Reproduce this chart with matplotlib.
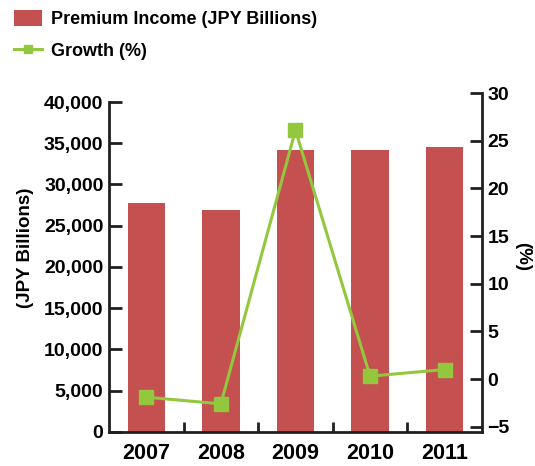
import matplotlib.pyplot as plt
import matplotlib.ticker as ticker
from matplotlib.patches import Patch
from matplotlib.lines import Line2D

# ── Data ──────────────────────────────────────────────────────────────────────
years = ["2007", "2008", "2009", "2010", "2011"]
premium_income = [27750, 26900, 34200, 34180, 34600]   # JPY billions
growth = [-1.9, -2.6, 26.1, 0.3, 1.0]                   # %

# ── Style ─────────────────────────────────────────────────────────────────────
BAR_COLOR = "#c4504f"
LINE_COLOR = "#93c73e"
AXIS_COLOR = "#231f20"
plt.rcParams["font.family"] = ["Liberation Sans", "DejaVu Sans"]
plt.rcParams["font.weight"] = "bold"

fig = plt.figure(figsize=(5.35, 4.66), dpi=100)
ax = fig.add_axes([0.2037, 0.073, 0.6972, 0.7274])
ax2 = ax.twinx()

x = range(len(years))
ax.bar(x, premium_income, width=0.5, color=BAR_COLOR, zorder=2)
ax2.plot(x, growth, color=LINE_COLOR, linewidth=2.2, marker="s",
         markersize=10.5, zorder=3)

# left axis: 0-40,000, spine stops at the top tick
ax.set_xlim(-0.5, len(years) - 0.5)
ax.set_ylim(0, 41090)
ax.set_yticks(range(0, 40001, 5000))
ax.yaxis.set_major_formatter(ticker.StrMethodFormatter("{x:,.0f}"))
ax.spines["left"].set_bounds(0, 40000)

# right axis: -5 to 30 %
ax2.set_ylim(-5.55, 30)
ax2.set_yticks(range(-5, 31, 5))
ax2.spines["right"].set_bounds(-5.55, 30)

# category ticks sit between the bars
ax.set_xticks(x)
ax.set_xticklabels(years)
ax.xaxis.set_minor_locator(ticker.FixedLocator([0.5, 1.5, 2.5, 3.5]))
ax.tick_params(axis="x", which="major", length=0, pad=8, labelsize=15.5)
ax.tick_params(axis="x", which="minor", direction="in", length=7,
               width=2, color=AXIS_COLOR)

ax.tick_params(axis="y", direction="in", length=9, width=2,
               color=AXIS_COLOR, labelsize=14, pad=4)
ax2.tick_params(axis="y", direction="in", length=9, width=2,
                color=AXIS_COLOR, labelsize=14, pad=4)

for a in (ax, ax2):
    a.spines["top"].set_visible(False)
    for side in ("left", "right", "bottom"):
        a.spines[side].set_color(AXIS_COLOR)
        a.spines[side].set_linewidth(2)
ax.spines["right"].set_visible(False)
ax2.spines["left"].set_visible(False)
ax2.spines["bottom"].set_visible(False)

fig.text(0.047, 0.468, "(JPY Billions)", rotation=90, ha="center",
         va="center", fontsize=13.5)
fig.text(0.976, 0.45, "(%)", rotation=270, ha="center", va="center",
         fontsize=13.5)

# legend
handles = [
    Patch(facecolor=BAR_COLOR, edgecolor="none"),
    Line2D([0], [0], color=LINE_COLOR, linewidth=2.2, marker="s",
           markersize=6),
]
fig.legend(handles, ["Premium Income (JPY Billions)", "Growth (%)"],
           loc="upper left", bbox_to_anchor=(0.0, 1.01), frameon=False,
           fontsize=13, handlelength=1.5, handleheight=1.0,
           handletextpad=0.5, labelspacing=0.75, borderpad=0.3)

plt.savefig("out.png", dpi=100)
